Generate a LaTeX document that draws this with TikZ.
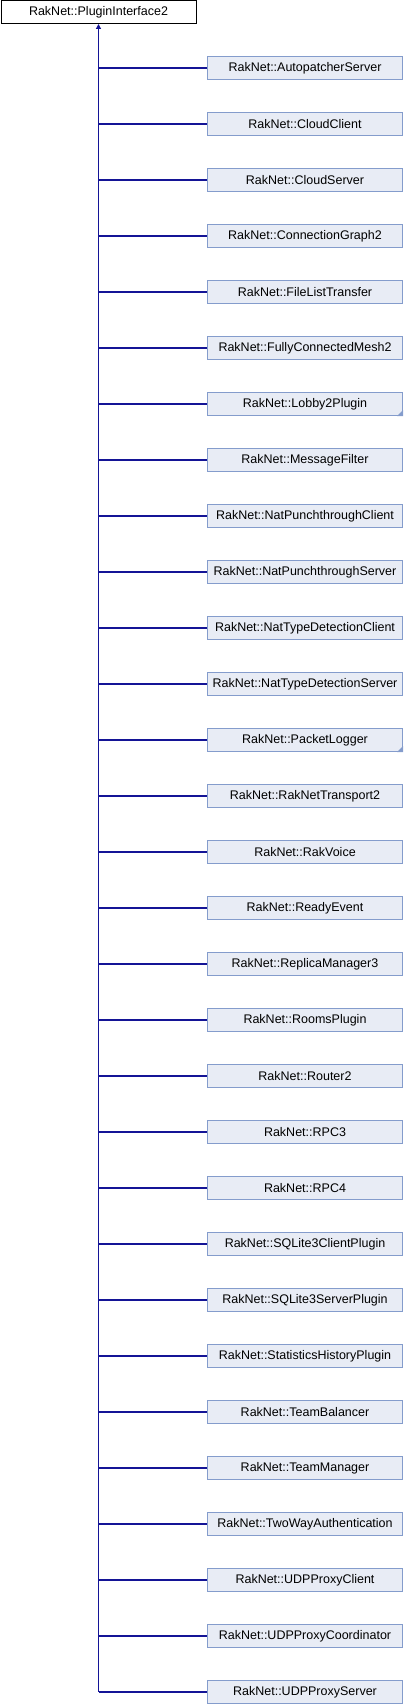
\documentclass[tikz,border=0pt]{standalone}
\usepackage{fontspec}
\setmainfont{Liberation Sans}
\usetikzlibrary{arrows.meta}
\definecolor{boxfill}{RGB}{232,236,245}
\definecolor{boxline}{RGB}{132,156,204}
\definecolor{edgecol}{RGB}{20,20,150}
\tikzset{
  x=1pt,y=-1pt,
  basebox/.style={draw=black,fill=white,line width=1pt,minimum width=195pt,minimum height=23pt,inner sep=0pt,font=\fontsize{12.5}{14}\selectfont},
  childbox/.style={draw=boxline,fill=boxfill,line width=1pt,minimum width=195pt,minimum height=23pt,inner sep=0pt,font=\fontsize{12.5}{14}\selectfont},
  edge/.style={draw=edgecol,line width=1.2pt},
  corner/.style={fill=boxline,draw=none}
}
\begin{document}
\begin{tikzpicture}
\useasboundingbox (0,0) rectangle (404,1704);
\node[basebox] (p) at (98.5,12) {RakNet::PluginInterface2};
\foreach \name [count=\i from 0] in {AutopatcherServer,CloudClient,CloudServer,ConnectionGraph2,FileListTransfer,FullyConnectedMesh2,Lobby2Plugin,MessageFilter,NatPunchthroughClient,NatPunchthroughServer,NatTypeDetectionClient,NatTypeDetectionServer,PacketLogger,RakNetTransport2,RakVoice,ReadyEvent,ReplicaManager3,RoomsPlugin,Router2,RPC3,RPC4,SQLite3ClientPlugin,SQLite3ServerPlugin,StatisticsHistoryPlugin,TeamBalancer,TeamManager,TwoWayAuthentication,UDPProxyClient,UDPProxyCoordinator,UDPProxyServer}{
  \node[childbox] (c\i) at (305,{68+56*\i}) {RakNet::\name};
  \draw[edge] (p.south |- c\i.west) -- (c\i.west);
}
\coordinate (j) at (p.south |- c29.west);
\draw[edge,{Triangle[length=5pt,width=5pt]}-] (p.south) -- (j);
\foreach \k in {6,12}{
  \fill[corner] (c\k.south east) -- ++(-6,0) -- ++(6,-6) -- cycle;
}
\end{tikzpicture}
\end{document}
